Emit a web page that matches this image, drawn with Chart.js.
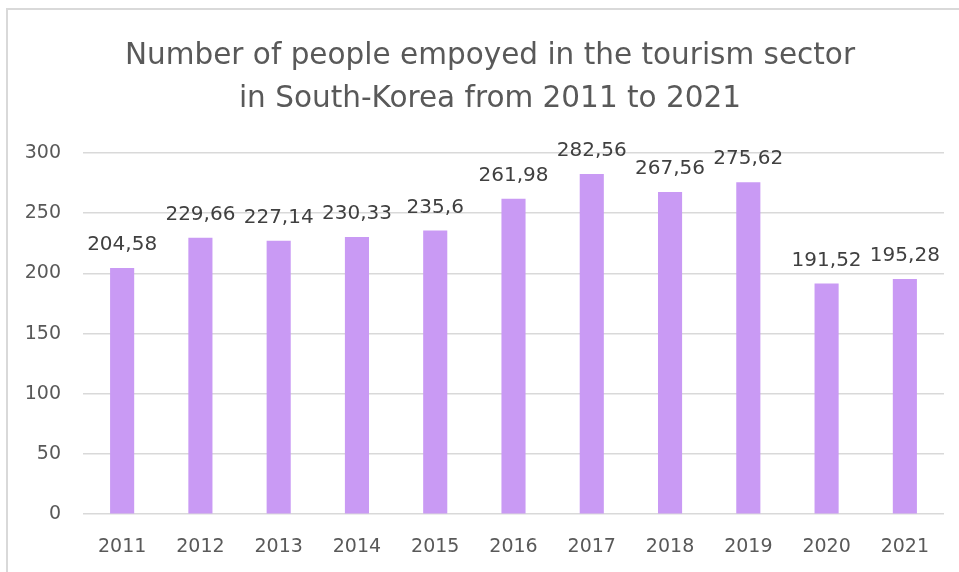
<!DOCTYPE html>
<html>
<head>
<meta charset="utf-8">
<title>Tourism employment South Korea</title>
<script src="https://cdn.jsdelivr.net/npm/chart.js@4.4.1/dist/chart.umd.min.js"></script>
<style>
  html, body { margin: 0; padding: 0; background: #fff; overflow: hidden; }
  .frame {
    position: absolute; left: 6px; top: 8px; width: 1000px; height: 620px;
    border-left: 2px solid #d9d9d9; border-top: 2px solid #d9d9d9;
  }
  .wrap { position: absolute; left: 0; top: 0; width: 959px; height: 600px; }
</style>
</head>
<body>
<div class="frame"></div>
<div class="wrap"><canvas id="tourismChart" width="959" height="600"></canvas></div>
<script>
const years = ["2011", "2012", "2013", "2014", "2015", "2016", "2017", "2018", "2019", "2020", "2021"];
const employed = [204.58, 229.66, 227.14, 230.33, 235.6, 261.98, 282.56, 267.56, 275.62, 191.52, 195.28];
const titleLines = ["Number of people empoyed in the tourism sector", "in South-Korea from 2011 to 2021"];

const FONT = "'DejaVu Sans', 'Noto Sans', sans-serif";
const GREY = "#595959";

// two-line heading, centred over the whole frame rather than the plot
const chartHeading = {
  id: "chartHeading",
  beforeDraw(chart) {
    const ctx = chart.ctx;
    ctx.save();
    ctx.font = "29.5px " + FONT;
    ctx.fillStyle = GREY;
    ctx.textAlign = "center";
    ctx.textBaseline = "alphabetic";
    titleLines.forEach(function (line, i) {
      ctx.fillText(line, 490, 63.5 + i * 43);
    });
    ctx.restore();
  }
};

// value labels above each bar, decimal comma like the source sheet
const valueLabels = {
  id: "valueLabels",
  afterDatasetsDraw(chart) {
    const ctx = chart.ctx;
    const meta = chart.getDatasetMeta(0);
    ctx.save();
    ctx.font = "20px " + FONT;
    ctx.fillStyle = "#404040";
    ctx.textAlign = "center";
    ctx.textBaseline = "alphabetic";
    meta.data.forEach(function (bar, i) {
      const txt = String(employed[i]).replace(".", ",");
      ctx.fillText(txt, bar.x, bar.y - 18);
    });
    ctx.restore();
  }
};

new Chart(document.getElementById("tourismChart"), {
  type: "bar",
  data: {
    labels: years,
    datasets: [{
      data: employed,
      backgroundColor: "#c99af4",
      borderWidth: 0,
      categoryPercentage: 0.55,
      barPercentage: 0.56
    }]
  },
  options: {
    responsive: false,
    animation: false,
    layout: { padding: { left: 0, right: 15, top: 153, bottom: 21 } },
    plugins: {
      legend: { display: false },
      tooltip: { enabled: false },
      title: { display: false }
    },
    scales: {
      x: {
        grid: { display: false, drawTicks: false },
        border: { display: false },
        ticks: {
          color: GREY,
          padding: 21,
          font: { family: FONT, size: 19 }
        }
      },
      y: {
        min: 0,
        max: 300,
        afterFit: function (scale) { scale.width = 83; },
        grid: { color: "#d9d9d9", lineWidth: 1.5, drawTicks: false },
        border: { display: false },
        ticks: {
          stepSize: 50,
          color: GREY,
          padding: 22,
          font: { family: FONT, size: 19 }
        }
      }
    }
  },
  plugins: [chartHeading, valueLabels]
});
</script>
</body>
</html>
